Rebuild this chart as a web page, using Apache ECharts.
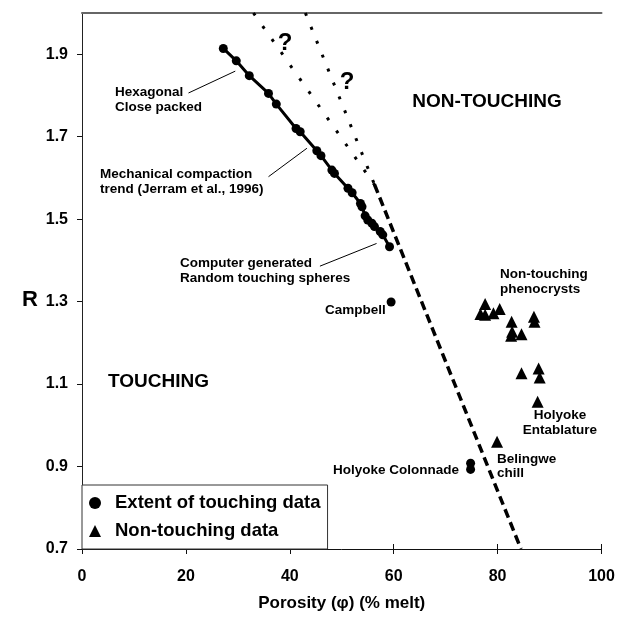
<!DOCTYPE html>
<html><head><meta charset="utf-8">
<script src="https://cdn.jsdelivr.net/npm/echarts@6/dist/echarts.min.js"></script>
<style>html,body{margin:0;padding:0;background:#fff}#c{width:618px;height:618px}</style>
</head><body><div id="c"></div>
<script>
// ---- data ----
const xTicks = [0, 20, 40, 60, 80, 100];
const yTicks = [0.7, 0.9, 1.1, 1.3, 1.5, 1.7, 1.9];

const packingPhi = [27.2, 29.7, 32.2, 35.9, 37.4, 41.2, 42.0, 45.2, 46.0, 48.1, 48.6, 51.2, 52.0, 53.6, 53.9, 54.5, 55.0, 55.8, 56.3, 57.4, 57.9, 59.2];
const packingR   = [1.914, 1.884, 1.848, 1.805, 1.779, 1.720, 1.712, 1.666, 1.654, 1.619, 1.611, 1.575, 1.564, 1.538, 1.530, 1.508, 1.498, 1.490, 1.482, 1.470, 1.462, 1.433];

const touchingPhi = [59.5, 74.8, 74.8];
const touchingR   = [1.299, 0.908, 0.893];

const nonTouchPhi = [77.6, 76.7, 77.6, 79.2, 80.4, 82.7, 87.0, 87.1, 82.8, 82.6, 84.6, 84.6, 87.9, 88.1, 87.7, 79.9];
const nonTouchR   = [1.294, 1.270, 1.268, 1.272, 1.282, 1.251, 1.263, 1.251, 1.227, 1.217, 1.221, 1.126, 1.138, 1.116, 1.057, 0.960];

const boundLeftPhi  = [33.0, 56.6];
const boundLeftR    = [2.0, 1.578];
const boundRightPhi = [43.0, 56.3];
const boundRightR   = [2.0, 1.584];
const boundDashPhi  = [56.3, 84.5];
const boundDashR    = [1.584, 0.70];

// arrows
const arrowFromPhi = [20.5, 35.9, 45.8];
const arrowFromR   = [1.806, 1.603, 1.386];
const arrowToPhi   = [29.5, 43.3, 56.7];
const arrowToR     = [1.859, 1.672, 1.441];

const zip = (a, b) => a.map((v, i) => [v, b[i]]);
const FONT = '"Liberation Sans", Arial, sans-serif';
const txt = (text, x, y, size, align) => ({
  type: 'text', x: x, y: y, z: 100,
  style: { text: text, fill: '#000', font: 'bold ' + size + 'px ' + FONT,
           textAlign: align || 'left', textVerticalAlign: 'middle' }
});

const chart = echarts.init(document.getElementById('c'), null, { renderer: 'canvas' });
chart.setOption({
  animation: false,
  backgroundColor: '#fff',
  grid: { left: 82, right: 16.5, top: 13, bottom: 69, containLabel: false },
  xAxis: [
    { type: 'value', min: 0, max: 100, interval: 20, position: 'bottom',
      axisLine: { lineStyle: { color: '#111', width: 1 } },
      axisTick: { show: true, inside: false, length: 5, lineStyle: { color: '#111' }, customValues: xTicks },
      axisLabel: { color: '#000', fontWeight: 'bold', fontSize: 16, fontFamily: FONT, margin: 20, customValues: xTicks },
      splitLine: { show: false },
      name: 'Porosity (\u03c6) (% melt)', nameLocation: 'middle', nameGap: 46,
      nameTextStyle: { color: '#000', fontWeight: 'bold', fontSize: 17, fontFamily: FONT } },
    { type: 'value', min: 0, max: 100, interval: 20, position: 'bottom',
      axisLine: { show: false },
      axisTick: { show: true, inside: true, length: 5, lineStyle: { color: '#111' }, customValues: xTicks },
      axisLabel: { show: false }, splitLine: { show: false } },
    { type: 'value', min: 0, max: 100, position: 'top',
      axisLine: { show: true, lineStyle: { color: '#666', width: 2 } },
      axisTick: { show: false }, axisLabel: { show: false }, splitLine: { show: false } }
  ],
  yAxis: [
    { type: 'value', min: 0.7, max: 2.0, interval: 0.2, position: 'left',
      axisLine: { show: true, lineStyle: { color: '#111', width: 1 } },
      axisTick: { show: true, inside: false, length: 5, lineStyle: { color: '#111' }, customValues: yTicks },
      axisLabel: { color: '#000', fontWeight: 'bold', fontSize: 16, fontFamily: FONT, margin: 14,
                   customValues: yTicks, formatter: v => v.toFixed(1) },
      splitLine: { show: false } },
    { type: 'value', min: 0.7, max: 2.0, position: 'right',
      axisLine: { show: true, lineStyle: { color: '#222', width: 1 } },
      axisTick: { show: false }, axisLabel: { show: false }, splitLine: { show: false } }
  ],
  legend: {
    data: ['Extent of touching data', 'Non-touching data'],
    orient: 'vertical', left: 82, top: 485,
    itemWidth: 12, itemHeight: 12, itemGap: 9,
    padding: [8.5, 7, 8.5, 7],
    backgroundColor: '#fff', borderColor: '#333', borderWidth: 1, borderRadius: 0,
    textStyle: { color: '#000', fontWeight: 'bold', fontSize: 18.5, fontFamily: FONT, padding: [0, 0, 0, 9] },
    itemStyle: { color: '#000', opacity: 1 }, selectedMode: false
  },
  series: [
    { name: 'boundLeft', type: 'line', data: zip(boundLeftPhi, boundLeftR), symbol: 'none',
      lineStyle: { color: '#000', width: 3, type: [3, 13], cap: 'butt' }, silent: true },
    { name: 'boundRight', type: 'line', data: zip(boundRightPhi, boundRightR), symbol: 'none',
      lineStyle: { color: '#000', width: 3, type: [3, 12], cap: 'butt' }, silent: true },
    { name: 'boundDash', type: 'line', data: zip(boundDashPhi, boundDashR), symbol: 'none',
      lineStyle: { color: '#000', width: 3.5, type: [9, 5], cap: 'butt' }, silent: true },
    { name: 'packing', type: 'line', data: zip(packingPhi, packingR), symbol: 'circle', symbolSize: 9,
      itemStyle: { color: '#000' }, lineStyle: { color: '#000', width: 3 }, silent: true },
    { name: 'Extent of touching data', type: 'scatter', data: zip(touchingPhi, touchingR),
      symbol: 'circle', symbolSize: 9, itemStyle: { color: '#000', opacity: 1 } },
    { name: 'Non-touching data', type: 'scatter', data: zip(nonTouchPhi, nonTouchR),
      symbol: 'triangle', symbolSize: 12, itemStyle: { color: '#000', opacity: 1 } },
    { name: 'arrows', type: 'line', data: [], silent: true,
      markLine: { silent: true, animation: false, symbol: ['none', 'arrow'], symbolSize: [0, 9],
        label: { show: false }, lineStyle: { color: '#000', width: 1, type: 'solid' },
        data: arrowFromPhi.map((p, i) => [{ coord: [p, arrowFromR[i]] }, { coord: [arrowToPhi[i], arrowToR[i]] }]) } }
  ],
  graphic: [
    txt('R', 30, 300, 22, 'center'),
    txt('?', 285, 43, 24, 'center'),
    txt('?', 347, 82, 24, 'center'),
    txt('Hexagonal', 115, 92, 13.5),
    txt('Close packed', 115, 107, 13.5),
    txt('Mechanical compaction', 100, 174, 13.5),
    txt('trend (Jerram et al., 1996)', 100, 189, 13.5),
    txt('Computer generated', 180, 263, 13.5),
    txt('Random touching spheres', 180, 278, 13.5),
    txt('NON-TOUCHING', 487, 102, 19, 'center'),
    txt('TOUCHING', 108, 382, 19),
    txt('Non-touching', 500, 274, 13.5),
    txt('phenocrysts', 500, 289, 13.5),
    txt('Campbell', 325, 310, 13.5),
    txt('Holyoke', 560, 415, 13.5, 'center'),
    txt('Entablature', 560, 430, 13.5, 'center'),
    txt('Belingwe', 497, 459, 13.5),
    txt('chill', 497, 473, 13.5),
    txt('Holyoke Colonnade', 333, 470, 13.5)
  ]
});
</script>
</body></html>
